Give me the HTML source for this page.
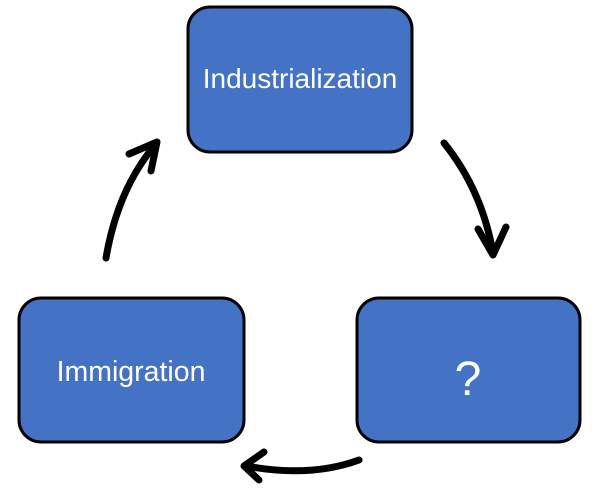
<!DOCTYPE html>
<html><head><meta charset="utf-8"><style>
html,body{margin:0;padding:0;background:#fff;}
svg{display:block;}
text{font-family:"Liberation Sans",sans-serif;fill:#fff;}
</style></head><body>
<svg width="600" height="495" viewBox="0 0 600 495">
<g fill="#4472c4" stroke="#000" stroke-width="3">
<rect x="188" y="7" width="224" height="145" rx="22"/>
<rect x="19" y="298" width="225" height="144" rx="22"/>
<rect x="357" y="298" width="223" height="144" rx="22"/>
</g>
<text x="300" y="88" font-size="28" text-anchor="middle">Industrialization</text>
<text x="131" y="381" font-size="28.5" text-anchor="middle">Immigration</text>
<text x="468" y="395" font-size="48" text-anchor="middle">?</text>
<g fill="none" stroke="#000" stroke-width="7" stroke-linecap="round" stroke-linejoin="round">
<path d="M106 258 Q118 188 156 144"/>
<path d="M129 154 L157 142 L151 171"/>
<path d="M444 143 Q482 190 493 253"/>
<path d="M478 229 L493 255 L506 227"/>
<path d="M359 460 Q310 478 246 466"/>
<path d="M264 452 L244 466 L259 480"/>
</g>
</svg>
</body></html>
